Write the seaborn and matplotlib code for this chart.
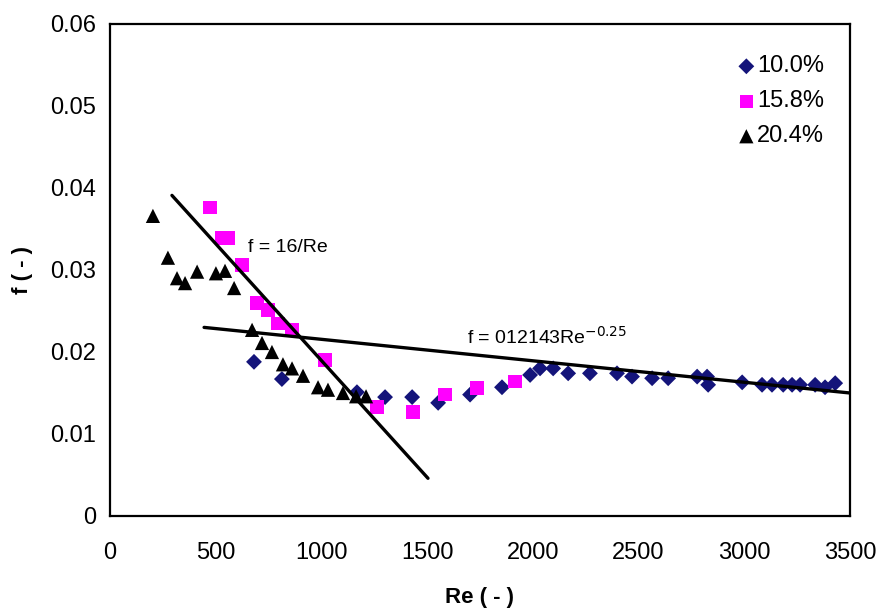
import numpy as np
import pandas as pd
import matplotlib
matplotlib.use("Agg")
import matplotlib.pyplot as plt
import seaborn as sns

# ---- data ----
re_10 = [681, 813, 1168, 1301, 1429, 1552, 1703, 1854, 1987, 2034, 2096, 2167, 2270,
         2398, 2469, 2564, 2640, 2777, 2824, 2829, 2990, 3084, 3131, 3184, 3226, 3264,
         3335, 3382, 3430]
f_10 = [0.0188, 0.0167, 0.0151, 0.0145, 0.0145, 0.0138, 0.0148, 0.0157, 0.0172, 0.0180,
        0.0180, 0.0174, 0.0174, 0.0174, 0.0170, 0.0168, 0.0168, 0.0170, 0.0170, 0.0160,
        0.0163, 0.0160, 0.0160, 0.0160, 0.0160, 0.0160, 0.0160, 0.0157, 0.0162]

re_158 = [473, 530, 558, 624, 695, 747, 795, 861, 1017, 1263, 1433, 1585, 1736, 1916]
f_158 = [0.0376, 0.0339, 0.0339, 0.0306, 0.0260, 0.0251, 0.0235, 0.0227, 0.0190,
         0.0133, 0.0127, 0.0148, 0.0156, 0.0164]

re_204 = [203, 274, 317, 355, 412, 501, 544, 587, 672, 719, 766, 818, 861, 913, 984,
          1031, 1102, 1164, 1211]
f_204 = [0.0366, 0.0315, 0.0290, 0.0284, 0.0298, 0.0296, 0.0299, 0.0278, 0.0227, 0.0211,
         0.0200, 0.0185, 0.0180, 0.0171, 0.0157, 0.0154, 0.0150, 0.0146, 0.0146]

series_labels = ["10.0%", "15.8%", "20.4%"]

# fitted lines (end points as drawn)
lam_re = [293, 1504]
lam_f = [0.0391, 0.0046]
turb_re = [445, 3500]
turb_f = [0.0230, 0.0150]

x_ticks = [0, 500, 1000, 1500, 2000, 2500, 3000, 3500]
y_ticks = [0, 0.01, 0.02, 0.03, 0.04, 0.05, 0.06]
y_tick_labels = ["0", "0.01", "0.02", "0.03", "0.04", "0.05", "0.06"]

df = pd.concat([
    pd.DataFrame({"Re": re_10, "f": f_10, "series": series_labels[0]}),
    pd.DataFrame({"Re": re_158, "f": f_158, "series": series_labels[1]}),
    pd.DataFrame({"Re": re_204, "f": f_204, "series": series_labels[2]}),
], ignore_index=True)

sns.set_style("white")
plt.rcParams["font.family"] = ["Liberation Sans", "DejaVu Sans"]
plt.rcParams["text.color"] = "black"
plt.rcParams["axes.labelcolor"] = "black"
plt.rcParams["xtick.color"] = "black"
plt.rcParams["ytick.color"] = "black"

fig = plt.figure(figsize=(8.85, 6.11), dpi=100)
ax = fig.add_axes([110 / 885, 1 - 516 / 611, 740 / 885, 492 / 611])

palette = {"10.0%": "#14147a", "15.8%": "#ff00ff", "20.4%": "#000000"}
markers = {"10.0%": "D", "15.8%": "s", "20.4%": "^"}
sizes_map = {"10.0%": 65, "15.8%": 95, "20.4%": 105}

for lab in series_labels:
    sub = df[df["series"] == lab]
    sns.scatterplot(data=sub, x="Re", y="f", color=palette[lab], marker=markers[lab],
                    s=sizes_map[lab], edgecolor="none", linewidth=0, ax=ax,
                    label=lab, zorder=3)

sns.lineplot(x=lam_re, y=lam_f, color="black", linewidth=2.4, ax=ax, zorder=4)
sns.lineplot(x=turb_re, y=turb_f, color="black", linewidth=2.4, ax=ax, zorder=4)

ax.text(653, 0.0327, "f = 16/Re", fontsize=14, va="center", ha="left")
ax.text(1690, 0.0218, "f = 012143Re$^{-0.25}$", fontsize=14, va="center", ha="left")

ax.set_xlim(0, 3500)
ax.set_ylim(0, 0.06)
ax.set_xticks(x_ticks)
ax.set_xticklabels([str(t) for t in x_ticks])
ax.set_yticks(y_ticks)
ax.set_yticklabels(y_tick_labels)
ax.tick_params(axis="both", direction="out", length=5, width=1.3, color="black",
               labelsize=17, pad=5)
ax.tick_params(axis="x", pad=14)
for sp in ax.spines.values():
    sp.set_visible(True)
    sp.set_color("black")
    sp.set_linewidth(1.6)

ax.set_xlabel("Re ( - )", fontsize=16, fontweight="bold", labelpad=16)
ax.set_ylabel("f ( - )", fontsize=16, fontweight="bold", labelpad=12)

leg = ax.legend(loc="upper left", bbox_to_anchor=(0.836, 0.96), frameon=False,
                fontsize=17, handlelength=0.5, handletextpad=0.2, labelspacing=0.55,
                borderpad=0)

fig.savefig("out.png", dpi=100)
